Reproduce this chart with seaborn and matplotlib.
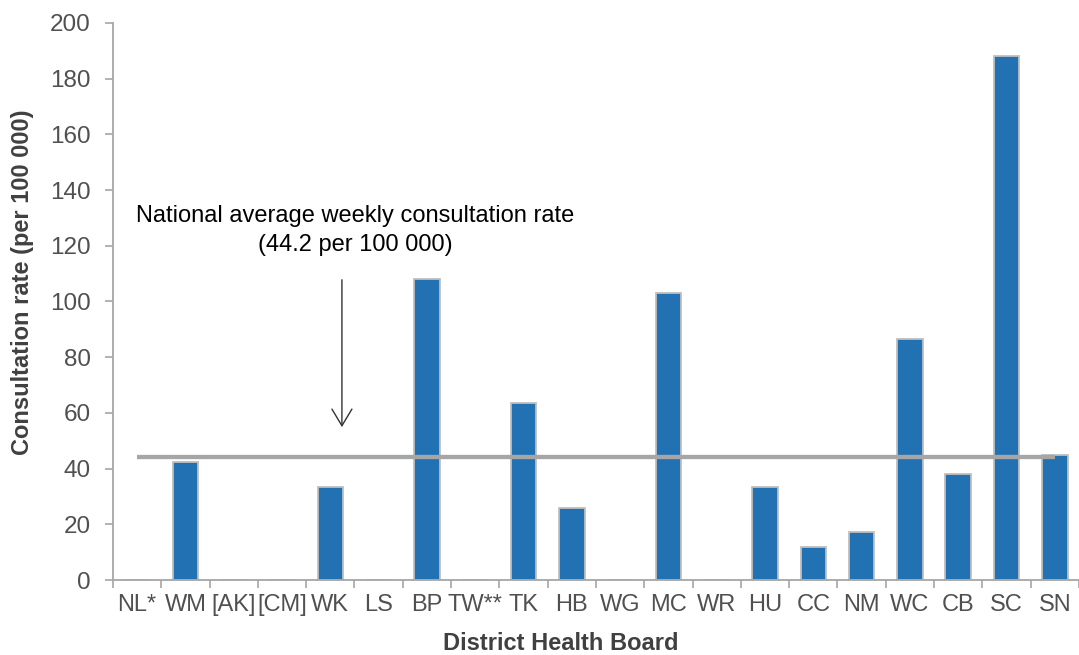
import matplotlib
matplotlib.use("Agg")
import matplotlib.pyplot as plt
from matplotlib.ticker import FixedLocator
import seaborn as sns

boards = ["NL*", "WM", "[AK]", "[CM]", "WK", "LS", "BP", "TW**", "TK", "HB",
          "WG", "MC", "WR", "HU", "CC", "NM", "WC", "CB", "SC", "SN"]
rates = [0, 42.4, 0, 0, 33.4, 0, 108.2, 0, 63.6, 25.8,
         0, 103.2, 0, 33.3, 11.7, 17.2, 86.4, 38.0, 188.2, 44.9]
national_avg = 44.2
y_ticks = [0, 20, 40, 60, 80, 100, 120, 140, 160, 180, 200]

sns.set_theme(style="white")
plt.rcParams['font.family'] = ['Liberation Sans', 'DejaVu Sans']

fig = plt.figure(figsize=(10.79, 6.55), dpi=100)
ax = fig.add_axes([0.1047, 0.1145, 0.8953, 0.8504])

sns.barplot(x=boards, y=rates, color="#2271B3", saturation=1, width=0.53,
            edgecolor="#BFBFBF", linewidth=1.3, ax=ax)

# national average line across the boards
ax.hlines(national_avg, 0, len(boards) - 1, color="#A6A6A6", linewidth=3.1, zorder=3)

ax.text(4.51, 125.4, "National average weekly consultation rate\n(44.2 per 100 000)",
        ha="center", va="center", fontsize=17, color="black", linespacing=1.4)
ax.annotate("", xy=(4.24, 53.9), xytext=(4.24, 108.8),
            arrowprops=dict(arrowstyle="->,head_width=0.6,head_length=1.0",
                            color="#333333", lw=1.0))

ax.set_xlim(-0.5, len(boards) - 0.5)
ax.set_ylim(0, 200)
ax.set_yticks(y_ticks)

ax.xaxis.set_minor_locator(FixedLocator([i - 0.5 for i in range(len(boards) + 1)]))
ax.tick_params(axis="x", which="major", length=0, pad=10, labelsize=17, labelcolor="#505050")
ax.tick_params(axis="x", which="minor", bottom=True, length=6, width=1.2, color="#A6A6A6")
ax.tick_params(axis="y", left=True, length=6, width=1.2, color="#A6A6A6", pad=10,
               labelsize=17.5, labelcolor="#505050")

for side in ["top", "right"]:
    ax.spines[side].set_visible(False)
for side in ["left", "bottom"]:
    ax.spines[side].set_color("#A6A6A6")
    ax.spines[side].set_linewidth(1.3)

ax.set_xlabel("District Health Board", fontsize=17, fontweight="bold", color="#404040")
ax.set_ylabel("Consultation rate (per 100 000)", fontsize=17, fontweight="bold", color="#404040")
ax.xaxis.set_label_coords(0.464, -0.093)
ax.yaxis.set_label_coords(-0.082, 0.535)

fig.savefig("out.png", dpi=100)
